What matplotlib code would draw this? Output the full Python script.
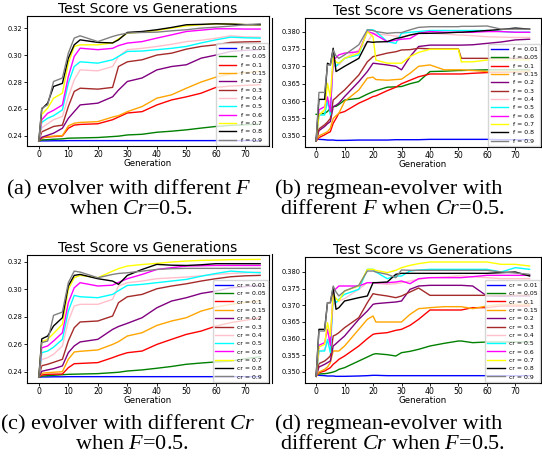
import matplotlib.pyplot as plt
from matplotlib.lines import Line2D

plt.rcParams['mathtext.fontset'] = 'custom'
plt.rcParams['mathtext.rm'] = 'Liberation Serif'
plt.rcParams['mathtext.it'] = 'Liberation Serif:italic'

gens_ac = [0, 1, 3, 5, 8, 10, 12, 14, 20, 25, 27, 30, 35, 40, 45, 50, 55, 60, 65, 70, 75]
gens_bd = [0, 1, 3, 4, 5, 6, 7, 8, 10, 15, 18, 20, 21, 25, 28, 30, 33, 36, 40, 45, 50, 51, 55, 60, 65, 70, 75]

params = ['0.01', '0.05', '0.1', '0.15', '0.2', '0.3', '0.4', '0.5', '0.6', '0.7', '0.8', '0.9']
colors = ['blue', 'green', 'red', 'orange', 'purple', 'brown', 'pink', 'cyan', 'magenta', 'yellow', 'black', 'gray']

# (a) evolver, different F
a_001 = [0.2362, 0.2363, 0.2363, 0.2364, 0.2364, 0.2365, 0.2365, 0.2365, 0.2365, 0.2365, 0.2365, 0.2365, 0.2365, 0.2365, 0.2365, 0.2365, 0.2365, 0.2365, 0.2365, 0.2365, 0.2365]
a_005 = [0.2362, 0.2370, 0.2372, 0.2375, 0.2378, 0.2383, 0.2384, 0.2385, 0.2388, 0.2395, 0.2398, 0.2407, 0.2412, 0.2427, 0.2435, 0.2445, 0.2458, 0.2470, 0.2478, 0.2483, 0.2487]
a_01 = [0.2362, 0.2385, 0.2392, 0.2395, 0.2400, 0.2457, 0.2480, 0.2485, 0.2490, 0.2520, 0.2540, 0.2570, 0.2580, 0.2630, 0.2667, 0.2690, 0.2717, 0.2760, 0.2770, 0.2775, 0.2780]
a_015 = [0.2362, 0.2385, 0.2395, 0.2398, 0.2402, 0.2474, 0.2494, 0.2500, 0.2506, 0.2540, 0.2550, 0.2580, 0.2618, 0.2680, 0.2705, 0.2754, 0.2800, 0.2836, 0.2860, 0.2870, 0.2878]
a_02 = [0.2362, 0.2390, 0.2405, 0.2420, 0.2457, 0.2530, 0.2580, 0.2630, 0.2643, 0.2690, 0.2740, 0.2804, 0.2830, 0.2890, 0.2915, 0.2928, 0.2977, 0.3000, 0.3027, 0.3035, 0.3040]
a_03 = [0.2362, 0.2430, 0.2450, 0.2470, 0.2480, 0.2618, 0.2730, 0.2754, 0.2747, 0.2760, 0.2915, 0.2950, 0.2965, 0.3000, 0.3014, 0.3044, 0.3064, 0.3076, 0.3094, 0.3098, 0.3100]
a_04 = [0.2362, 0.2460, 0.2490, 0.2520, 0.2544, 0.2690, 0.2816, 0.2890, 0.2883, 0.2915, 0.2990, 0.3040, 0.3050, 0.3064, 0.3080, 0.3100, 0.3110, 0.3125, 0.3143, 0.3135, 0.3133]
a_05 = [0.2362, 0.2500, 0.2531, 0.2550, 0.2593, 0.2791, 0.2915, 0.2950, 0.2940, 0.2965, 0.2990, 0.3027, 0.3030, 0.3040, 0.3050, 0.3064, 0.3090, 0.3113, 0.3133, 0.3128, 0.3126]
a_06 = [0.2362, 0.2520, 0.2568, 0.2590, 0.2630, 0.2840, 0.2990, 0.3051, 0.3040, 0.3050, 0.3070, 0.3089, 0.3100, 0.3126, 0.3150, 0.3175, 0.3185, 0.3195, 0.3195, 0.3193, 0.3193]
a_07 = [0.2362, 0.2560, 0.2606, 0.2680, 0.2717, 0.2940, 0.3064, 0.3076, 0.3076, 0.3090, 0.3120, 0.3163, 0.3170, 0.3183, 0.3200, 0.3217, 0.3225, 0.3232, 0.3230, 0.3226, 0.3225]
a_08 = [0.2362, 0.2600, 0.2643, 0.2767, 0.2790, 0.2977, 0.3076, 0.3113, 0.3094, 0.3090, 0.3113, 0.3168, 0.3175, 0.3188, 0.3205, 0.3225, 0.3228, 0.3232, 0.3230, 0.3226, 0.3225]
a_09 = [0.2362, 0.2606, 0.2630, 0.2804, 0.2830, 0.3014, 0.3126, 0.3143, 0.3100, 0.3138, 0.3150, 0.3163, 0.3168, 0.3170, 0.3180, 0.3188, 0.3200, 0.3207, 0.3215, 0.3225, 0.3232]

# (b) regmean-evolver, different F
b_001 = [0.3493, 0.3490, 0.3489, 0.3488, 0.3488, 0.3488, 0.3487, 0.3487, 0.3487, 0.3488, 0.3488, 0.3488, 0.3488, 0.3488, 0.3489, 0.3489, 0.3489, 0.3489, 0.3490, 0.3490, 0.3490, 0.3490, 0.3490, 0.3490, 0.3489, 0.3489, 0.3489]
b_005 = [0.3562, 0.3562, 0.3565, 0.3570, 0.3580, 0.3584, 0.3585, 0.3590, 0.3603, 0.3608, 0.3620, 0.3627, 0.3630, 0.3640, 0.3641, 0.3642, 0.3650, 0.3656, 0.3685, 0.3686, 0.3688, 0.3688, 0.3689, 0.3690, 0.3690, 0.3690, 0.3690]
b_01 = [0.3485, 0.3495, 0.3503, 0.3508, 0.3512, 0.3536, 0.3550, 0.3565, 0.3570, 0.3594, 0.3605, 0.3613, 0.3615, 0.3630, 0.3640, 0.3650, 0.3660, 0.3670, 0.3678, 0.3678, 0.3678, 0.3678, 0.3680, 0.3682, 0.3683, 0.3684, 0.3685]
b_015 = [0.3485, 0.3500, 0.3508, 0.3512, 0.3522, 0.3550, 0.3558, 0.3565, 0.3599, 0.3632, 0.3666, 0.3669, 0.3662, 0.3660, 0.3662, 0.3663, 0.3680, 0.3700, 0.3704, 0.3690, 0.3690, 0.3690, 0.3688, 0.3685, 0.3685, 0.3685, 0.3685]
b_02 = [0.3485, 0.3515, 0.3527, 0.3535, 0.3541, 0.3584, 0.3588, 0.3594, 0.3613, 0.3656, 0.3685, 0.3709, 0.3708, 0.3704, 0.3700, 0.3690, 0.3728, 0.3757, 0.3761, 0.3761, 0.3761, 0.3761, 0.3762, 0.3766, 0.3770, 0.3776, 0.3778]
b_03 = [0.3485, 0.3520, 0.3532, 0.3540, 0.3550, 0.3603, 0.3610, 0.3618, 0.3632, 0.3675, 0.3713, 0.3728, 0.3730, 0.3738, 0.3742, 0.3747, 0.3748, 0.3752, 0.3750, 0.3750, 0.3750, 0.3723, 0.3723, 0.3723, 0.3723, 0.3723, 0.3723]
b_04 = [0.3485, 0.3560, 0.3575, 0.3590, 0.3603, 0.3700, 0.3702, 0.3704, 0.3723, 0.3747, 0.3770, 0.3795, 0.3793, 0.3790, 0.3787, 0.3785, 0.3790, 0.3793, 0.3795, 0.3793, 0.3790, 0.3790, 0.3788, 0.3785, 0.3784, 0.3783, 0.3783]
b_05 = [0.3485, 0.3560, 0.3560, 0.3603, 0.3560, 0.3728, 0.3700, 0.3709, 0.3723, 0.3733, 0.3805, 0.3805, 0.3800, 0.3771, 0.3766, 0.3795, 0.3798, 0.3800, 0.3803, 0.3803, 0.3803, 0.3803, 0.3803, 0.3803, 0.3800, 0.3798, 0.3798]
b_06 = [0.3485, 0.3575, 0.3584, 0.3612, 0.3570, 0.3718, 0.3725, 0.3733, 0.3738, 0.3742, 0.3800, 0.3795, 0.3790, 0.3771, 0.3775, 0.3778, 0.3780, 0.3795, 0.3800, 0.3798, 0.3798, 0.3798, 0.3798, 0.3800, 0.3800, 0.3798, 0.3798]
b_07 = [0.3485, 0.3560, 0.3575, 0.3651, 0.3613, 0.3728, 0.3712, 0.3709, 0.3723, 0.3738, 0.3800, 0.3785, 0.3718, 0.3709, 0.3709, 0.3709, 0.3728, 0.3740, 0.3749, 0.3749, 0.3749, 0.3713, 0.3713, 0.3718, 0.3718, 0.3718, 0.3718]
b_08 = [0.3485, 0.3605, 0.3605, 0.3709, 0.3704, 0.3752, 0.3685, 0.3690, 0.3700, 0.3723, 0.3771, 0.3769, 0.3770, 0.3771, 0.3780, 0.3783, 0.3790, 0.3795, 0.3795, 0.3796, 0.3798, 0.3798, 0.3800, 0.3803, 0.3806, 0.3810, 0.3807]
b_09 = [0.3485, 0.3625, 0.3625, 0.3704, 0.3704, 0.3747, 0.3730, 0.3723, 0.3733, 0.3762, 0.3805, 0.3803, 0.3800, 0.3795, 0.3797, 0.3797, 0.3805, 0.3812, 0.3814, 0.3814, 0.3814, 0.3815, 0.3815, 0.3816, 0.3807, 0.3807, 0.3807]

# (c) evolver, different Cr
c_001 = [0.2362, 0.2364, 0.2364, 0.2365, 0.2365, 0.2366, 0.2366, 0.2366, 0.2366, 0.2366, 0.2366, 0.2366, 0.2366, 0.2366, 0.2366, 0.2366, 0.2366, 0.2366, 0.2366, 0.2366, 0.2366]
c_005 = [0.2362, 0.2370, 0.2373, 0.2376, 0.2380, 0.2383, 0.2384, 0.2385, 0.2388, 0.2395, 0.2398, 0.2407, 0.2415, 0.2427, 0.2440, 0.2456, 0.2465, 0.2473, 0.2478, 0.2497, 0.2511]
c_01 = [0.2362, 0.2378, 0.2383, 0.2384, 0.2385, 0.2431, 0.2460, 0.2462, 0.2468, 0.2504, 0.2520, 0.2540, 0.2552, 0.2600, 0.2637, 0.2673, 0.2697, 0.2733, 0.2758, 0.2775, 0.2794]
c_015 = [0.2362, 0.2390, 0.2395, 0.2398, 0.2402, 0.2492, 0.2545, 0.2550, 0.2560, 0.2600, 0.2620, 0.2661, 0.2685, 0.2738, 0.2770, 0.2794, 0.2842, 0.2871, 0.2891, 0.2905, 0.2915]
c_02 = [0.2362, 0.2405, 0.2415, 0.2424, 0.2444, 0.2540, 0.2589, 0.2618, 0.2637, 0.2709, 0.2730, 0.2753, 0.2794, 0.2866, 0.2915, 0.2939, 0.2970, 0.2987, 0.3011, 0.3020, 0.3028]
c_03 = [0.2362, 0.2445, 0.2456, 0.2470, 0.2492, 0.2625, 0.2721, 0.2763, 0.2770, 0.2806, 0.2903, 0.2946, 0.2963, 0.3004, 0.3024, 0.3040, 0.3060, 0.3077, 0.3091, 0.3098, 0.3101]
c_04 = [0.2362, 0.2490, 0.2504, 0.2528, 0.2589, 0.2770, 0.2879, 0.2891, 0.2891, 0.2927, 0.3024, 0.3048, 0.3060, 0.3077, 0.3083, 0.3089, 0.3098, 0.3108, 0.3115, 0.3120, 0.3125]
c_05 = [0.2362, 0.2540, 0.2552, 0.2580, 0.2637, 0.2842, 0.2956, 0.2946, 0.2939, 0.2963, 0.2990, 0.3028, 0.3036, 0.3048, 0.3060, 0.3072, 0.3095, 0.3115, 0.3132, 0.3125, 0.3120]
c_06 = [0.2362, 0.2575, 0.2589, 0.2625, 0.2685, 0.2903, 0.3011, 0.3048, 0.3024, 0.3030, 0.3050, 0.3077, 0.3108, 0.3144, 0.3157, 0.3169, 0.3171, 0.3173, 0.3173, 0.3173, 0.3173]
c_07 = [0.2362, 0.2620, 0.2637, 0.2680, 0.2746, 0.3000, 0.3084, 0.3101, 0.3084, 0.3132, 0.3150, 0.3169, 0.3180, 0.3188, 0.3198, 0.3205, 0.3210, 0.3212, 0.3215, 0.3216, 0.3217]
c_08 = [0.2362, 0.2640, 0.2661, 0.2734, 0.2794, 0.3024, 0.3101, 0.3108, 0.3077, 0.3060, 0.3036, 0.3101, 0.3144, 0.3181, 0.3175, 0.3173, 0.3178, 0.3186, 0.3186, 0.3186, 0.3186]
c_09 = [0.2362, 0.2613, 0.2625, 0.2811, 0.2835, 0.3048, 0.3132, 0.3125, 0.3084, 0.3108, 0.3115, 0.3120, 0.3132, 0.3144, 0.3150, 0.3152, 0.3152, 0.3152, 0.3152, 0.3152, 0.3152]

# (d) regmean-evolver, different Cr
d_001 = [0.3493, 0.3490, 0.3489, 0.3488, 0.3488, 0.3488, 0.3487, 0.3487, 0.3487, 0.3488, 0.3489, 0.3490, 0.3490, 0.3489, 0.3489, 0.3489, 0.3489, 0.3489, 0.3489, 0.3489, 0.3489, 0.3489, 0.3489, 0.3489, 0.3489, 0.3489, 0.3489]
d_005 = [0.3493, 0.3494, 0.3495, 0.3496, 0.3498, 0.3500, 0.3503, 0.3508, 0.3513, 0.3533, 0.3545, 0.3553, 0.3555, 0.3552, 0.3548, 0.3558, 0.3562, 0.3568, 0.3578, 0.3586, 0.3593, 0.3593, 0.3588, 0.3590, 0.3590, 0.3590, 0.3590]
d_01 = [0.3487, 0.3498, 0.3503, 0.3508, 0.3513, 0.3523, 0.3530, 0.3538, 0.3548, 0.3578, 0.3600, 0.3613, 0.3615, 0.3618, 0.3625, 0.3628, 0.3640, 0.3658, 0.3686, 0.3686, 0.3686, 0.3686, 0.3693, 0.3693, 0.3698, 0.3698, 0.3698]
d_015 = [0.3487, 0.3500, 0.3508, 0.3515, 0.3528, 0.3563, 0.3563, 0.3563, 0.3578, 0.3628, 0.3658, 0.3668, 0.3650, 0.3650, 0.3650, 0.3650, 0.3673, 0.3690, 0.3693, 0.3696, 0.3696, 0.3696, 0.3690, 0.3698, 0.3703, 0.3703, 0.3703]
d_02 = [0.3487, 0.3515, 0.3523, 0.3528, 0.3533, 0.3578, 0.3585, 0.3593, 0.3608, 0.3658, 0.3683, 0.3703, 0.3705, 0.3708, 0.3710, 0.3713, 0.3748, 0.3758, 0.3760, 0.3760, 0.3760, 0.3760, 0.3758, 0.3728, 0.3727, 0.3728, 0.3728]
d_03 = [0.3487, 0.3525, 0.3533, 0.3540, 0.3548, 0.3608, 0.3612, 0.3618, 0.3633, 0.3663, 0.3708, 0.3735, 0.3733, 0.3728, 0.3723, 0.3728, 0.3740, 0.3752, 0.3730, 0.3730, 0.3730, 0.3730, 0.3730, 0.3730, 0.3730, 0.3730, 0.3730]
d_04 = [0.3487, 0.3560, 0.3568, 0.3590, 0.3608, 0.3703, 0.3708, 0.3713, 0.3720, 0.3748, 0.3768, 0.3768, 0.3766, 0.3763, 0.3765, 0.3768, 0.3773, 0.3778, 0.3783, 0.3785, 0.3788, 0.3788, 0.3786, 0.3783, 0.3780, 0.3780, 0.3780]
d_05 = [0.3487, 0.3563, 0.3563, 0.3598, 0.3558, 0.3733, 0.3708, 0.3718, 0.3733, 0.3748, 0.3808, 0.3808, 0.3800, 0.3780, 0.3788, 0.3788, 0.3803, 0.3806, 0.3808, 0.3808, 0.3808, 0.3808, 0.3808, 0.3808, 0.3800, 0.3813, 0.3808]
d_06 = [0.3487, 0.3580, 0.3588, 0.3628, 0.3580, 0.3743, 0.3750, 0.3758, 0.3758, 0.3758, 0.3768, 0.3768, 0.3768, 0.3768, 0.3770, 0.3773, 0.3765, 0.3780, 0.3783, 0.3783, 0.3783, 0.3783, 0.3786, 0.3790, 0.3790, 0.3790, 0.3790]
d_07 = [0.3487, 0.3575, 0.3583, 0.3648, 0.3608, 0.3733, 0.3720, 0.3713, 0.3743, 0.3758, 0.3808, 0.3808, 0.3805, 0.3798, 0.3805, 0.3813, 0.3820, 0.3825, 0.3830, 0.3830, 0.3830, 0.3830, 0.3830, 0.3830, 0.3823, 0.3823, 0.3818]
d_08 = [0.3487, 0.3628, 0.3628, 0.3708, 0.3708, 0.3753, 0.3688, 0.3693, 0.3713, 0.3723, 0.3728, 0.3768, 0.3768, 0.3770, 0.3793, 0.3796, 0.3796, 0.3796, 0.3796, 0.3796, 0.3796, 0.3796, 0.3796, 0.3796, 0.3798, 0.3800, 0.3788]
d_09 = [0.3487, 0.3623, 0.3623, 0.3708, 0.3708, 0.3758, 0.3740, 0.3728, 0.3743, 0.3760, 0.3803, 0.3803, 0.3800, 0.3793, 0.3783, 0.3806, 0.3805, 0.3805, 0.3805, 0.3805, 0.3805, 0.3805, 0.3805, 0.3805, 0.3800, 0.3797, 0.3793]

series_a = [a_001, a_005, a_01, a_015, a_02, a_03, a_04, a_05, a_06, a_07, a_08, a_09]
series_b = [b_001, b_005, b_01, b_015, b_02, b_03, b_04, b_05, b_06, b_07, b_08, b_09]
series_c = [c_001, c_005, c_01, c_015, c_02, c_03, c_04, c_05, c_06, c_07, c_08, c_09]
series_d = [d_001, d_005, d_01, d_015, d_02, d_03, d_04, d_05, d_06, d_07, d_08, d_09]

W, H = 542, 472


def px_rect(left, top, right, bottom):
    return [left / W, 1 - bottom / H, (right - left) / W, (bottom - top) / H]


def panel(fig, rect, gens, series, prefix, xlim, ylim):
    ax = fig.add_axes(rect)
    for vals, p, col in zip(series, params, colors):
        ax.plot(gens, vals, color=col, lw=1.0, label=f'{prefix} = {p}')
    ax.set_xlim(*xlim)
    ax.set_ylim(*ylim)
    ax.set_title('Test Score vs Generations', fontsize=10, pad=1.5)
    ax.set_xlabel('Generation', fontsize=6.2, labelpad=0)
    ax.tick_params(axis='x', labelsize=5.6, length=2, pad=1, width=0.6)
    ax.tick_params(axis='y', labelsize=4.8, length=2, pad=1, width=0.6)
    ax.legend(loc='lower right', fontsize=4.4, handlelength=2.9, labelspacing=0.5,
              borderaxespad=0.15, borderpad=0.4, handletextpad=0.7)
    return ax


fig = plt.figure(figsize=(W / 100, H / 100), dpi=100)

panel(fig, px_rect(27, 16, 269, 146), gens_ac, series_a, 'f', (-4, 78), (0.2325, 0.329))
panel(fig, px_rect(305, 18, 541, 147), gens_bd, series_b, 'f', (-3.9, 79), (0.3468, 0.3839))
panel(fig, px_rect(27, 255, 269, 383), gens_ac, series_c, 'cr', (-4, 78), (0.232, 0.3249))
panel(fig, px_rect(305, 257, 541, 383), gens_bd, series_d, 'cr', (-3.9, 79), (0.3467, 0.3845))

# cropped border left of the right-hand panels
for y0, y1 in [(18, 147), (254, 383)]:
    fig.add_artist(Line2D([271.5 / W, 271.5 / W], [1 - y0 / H, 1 - y1 / H], color='black', lw=0.8))

cap = dict(fontsize=16, family='Liberation Serif', ha='center', va='baseline')
captions = [
    (129, 194, '(a) evolver with different $F$'),
    (131, 214, 'when $Cr$=0.5.'),
    (389, 194, '(b) regmean-evolver with'),
    (393, 214, 'different $F$ when $Cr$=0.5.'),
    (128, 429, '(c) evolver with different $Cr$'),
    (132, 449, 'when $F$=0.5.'),
    (389, 429, '(d) regmean-evolver with'),
    (393, 449, 'different $Cr$ when $F$=0.5.'),
]
for x, y, s in captions:
    fig.text(x / W, 1 - y / H, s, **cap)

fig.savefig('out.png', dpi=100)
